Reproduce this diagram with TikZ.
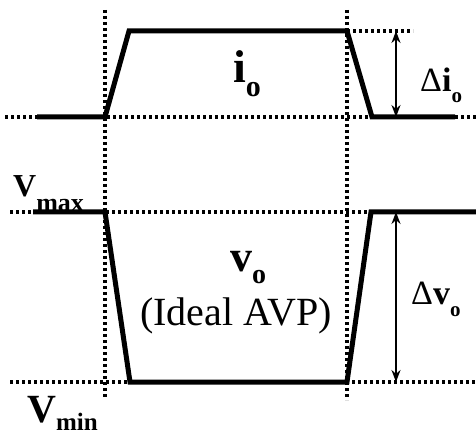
\documentclass[tikz,border=0pt]{standalone}
\usepackage{fontspec}
\setmainfont{Liberation Serif}
\usetikzlibrary{arrows.meta}
\tikzset{
 wave/.style={line width=5pt, line join=miter},
 guide/.style={line width=3.4pt, dash pattern=on 3pt off 3pt},
 dimarrow/.style={line width=1.8pt, {Stealth[length=12pt,width=9pt]}-{Stealth[length=12pt,width=9pt]}},
 lbl/.style={inner sep=0pt, anchor=base west},
}
\newcommand\fsz[1]{\fontsize{#1}{#1}\selectfont}
\begin{document}
\begin{tikzpicture}[x=1pt,y=-1pt]
\useasboundingbox (0,0) rectangle (476,435);
% guide lines
\draw[guide] (105,10) -- (105,397);
\draw[guide] (347,10) -- (347,400);
\draw[guide] (5,117) -- (476,117);
\draw[guide] (347,31) -- (413,31);
\draw[guide] (10,212) -- (476,212);
\draw[guide] (10,382) -- (476,382);
% waveforms
\draw[wave] (37,117) -- (105,117) -- (129,31) -- (347,31) -- (372,117) -- (455,117);
\draw[wave] (33,212) -- (105,212) -- (130,382) -- (347,382) -- (371,212) -- (476,212);
% dimension arrows
\coordinate (ditop) at (396,31);
\coordinate (dibot) at (396,117);
\coordinate (dvtop) at (396,212);
\coordinate (dvbot) at (396,382);
\draw[dimarrow] (ditop) -- (dibot);
\draw[dimarrow] (dvtop) -- (dvbot);
% labels
\node[lbl] (io) at (233,83) {\fsz{46}\bfseries i\raisebox{-14pt}{\fsz{30}o}};
\node[lbl] (dio) at (420,92) {\fsz{34}Δ\bfseries i\raisebox{-11pt}{\fsz{21}o}};
\node[lbl] (vmax) at (13,197) {\fsz{32}\bfseries V\raisebox{-15pt}{\fsz{26}max}};
\node[lbl] (vo) at (230,272) {\fsz{44}\bfseries v\raisebox{-12pt}{\fsz{28}o}};
\node[lbl] (avp) at (140,325) {\fsz{40}(Ideal AVP)};
\node[lbl] (dvo) at (411,305) {\fsz{34}Δ\bfseries v\raisebox{-12pt}{\fsz{21}o}};
\node[lbl] (vmin) at (27,422) {\fsz{40}\bfseries V\raisebox{-8pt}{\fsz{25}min}};
\end{tikzpicture}
\end{document}
